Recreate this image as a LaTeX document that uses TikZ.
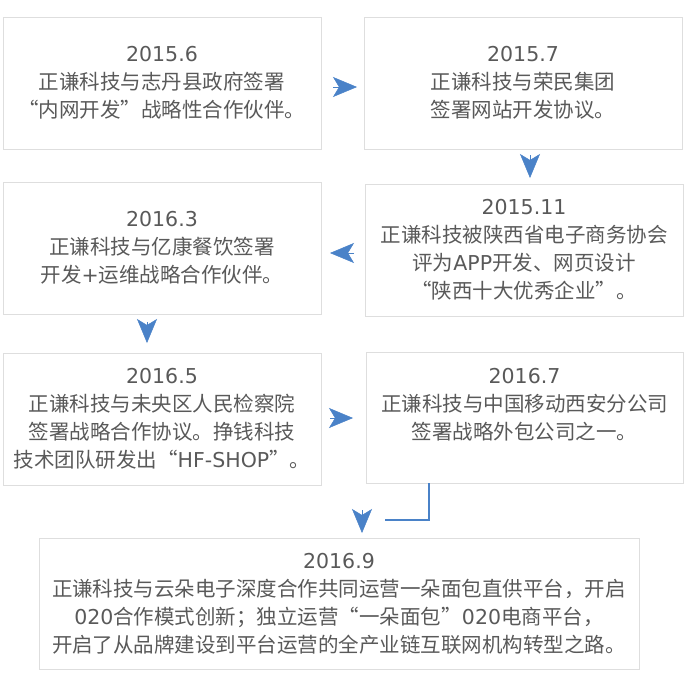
\documentclass[tikz,border=0pt]{standalone}
\usepackage{fontspec}
\setmainfont{Noto Sans CJK SC}
\newfontfamily\latin{DejaVu Sans}
\usepackage{tikz}
\usetikzlibrary{arrows.meta}
\definecolor{boxline}{HTML}{DEDEDE}
\definecolor{txtgray}{HTML}{595959}
\definecolor{arrowblue}{HTML}{4A82C8}
\tikzset{>={Stealth[length=24pt, width=20pt, inset=6pt]}}

\begin{document}
\begin{tikzpicture}[x=1pt, y=-1pt,
    event/.style={draw=boxline, line width=1pt, minimum width=318pt, minimum height=132pt,
        inner sep=0pt, outer sep=0pt, align=center, text=txtgray, font=\fontsize{20.5}{28}\selectfont},
    flow/.style={->, draw=arrowblue, line width=.5pt},
    link/.style={draw=arrowblue, line width=1.3pt}]
    \useasboundingbox(0, 0)rectangle(686, 686);
    \node[event] (b1) at (162, 83) {{\latin 2015.6}\\正谦科技与志丹县政府签署\\“内网开发”战略性合作伙伴。};
    \node[event] (b2) at (523, 83) {{\latin 2015.7}\\正谦科技与荣民集团\\签署网站开发协议。};
    \node[event] (b3) at (162, 248) {{\latin 2016.3}\\正谦科技与亿康餐饮签署\\开发{\latin +}运维战略合作伙伴。};
    \node[event] (b4) at (524, 250) {{\latin 2015.11}\\正谦科技被陕西省电子商务协会\\评为{\latin APP}开发、网页设计\\“陕西十大优秀企业”。};
    \node[event] (b5) at (162, 419) {{\latin 2016.5}\\正谦科技与未央区人民检察院\\签署战略合作协议。挣钱科技\\技术团队研发出“{\latin HF-SHOP}”。};
    \node[event, minimum width=317pt, minimum height=131pt, text depth=28pt] (b6) at (524.5, 417.5)
        {{\latin 2016.7}\\正谦科技与中国移动西安分公司\\签署战略外包公司之一。};
    \node[event, minimum width=600pt, minimum height=131pt] (b7) at (339, 603.5)
        {{\latin 2016.9}\\正谦科技与云朵电子深度合作共同运营一朵面包直供平台，开启\\{\latin 020}合作模式创新；独立运营“一朵面包”{\latin 020}电商平台，\\开启了从品牌建设到平台运营的全产业链互联网机构转型之路。};
    \draw[flow, shorten <=12pt, shorten >=7pt]([yshift=-4pt]b1.east)--([yshift=-4pt]b2.west);
    \draw[flow, shorten <=6pt, shorten >=6pt]([xshift=7pt]b2.south)--([xshift=6pt]b4.north);
    \draw[flow, shorten <=11pt, shorten >=9pt]([yshift=-3pt]b4.west)--([yshift=-5pt]b3.east);
    \draw[flow, shorten <=8pt, shorten >=10pt]([xshift=-15pt]b3.south)--([xshift=-15pt]b5.north);
    \draw[flow, shorten <=9pt, shorten >=13pt]([yshift=1pt]b5.east)--([yshift=-.5pt]b6.west);
    \coordinate (elbow) at (385, 520);
    \coordinate (drop) at (362, 510);
    \draw[link]([xshift=-95.5pt]b6.south)|-(elbow);
    \draw[flow, shorten >=5pt](drop)--(drop |- b7.north);
\end{tikzpicture}
\end{document}
